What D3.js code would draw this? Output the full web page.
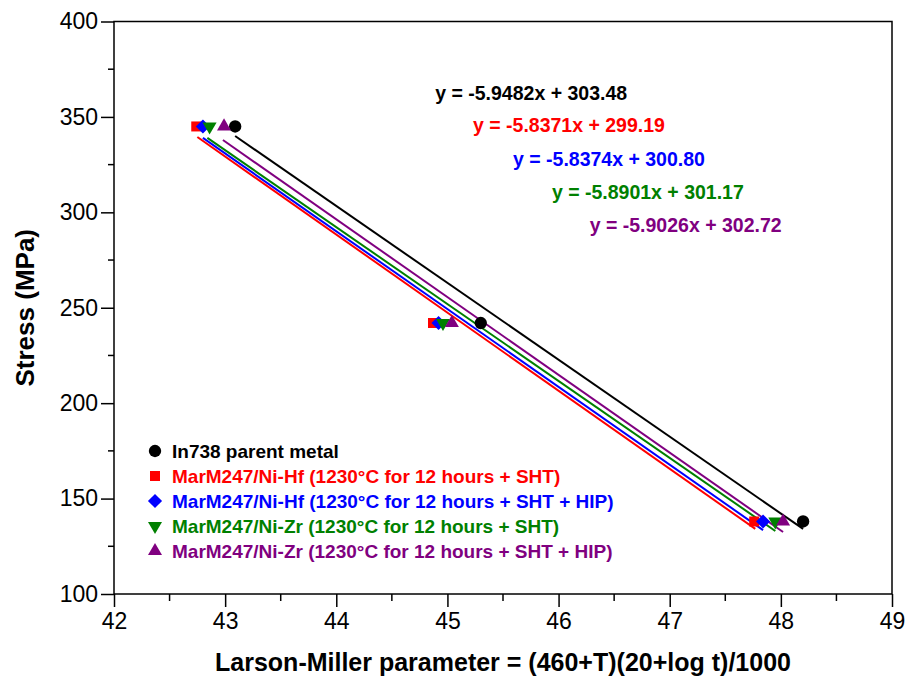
<!DOCTYPE html>
<html lang="en">
<head>
    <meta charset="UTF-8">
    <title>Larson-Miller plot</title>
    <script src="https://cdn.jsdelivr.net/npm/d3@7"></script>
    <style>
        body { margin: 0; background: #fff; }
        svg { display: block; font-family: "Liberation Sans", Arial, sans-serif; }
    </style>
</head>
<body>
<div id="chart"></div>
<script>
    // series names and colours
    const seriesNames = [
        "In738 parent metal",
        "MarM247/Ni-Hf (1230°C for 12 hours + SHT)",
        "MarM247/Ni-Hf (1230°C for 12 hours + SHT + HIP)",
        "MarM247/Ni-Zr (1230°C for 12 hours + SHT)",
        "MarM247/Ni-Zr (1230°C for 12 hours + SHT + HIP)"
    ];
    const seriesColors = ["#000000", "#ff0000", "#0000ff", "#008000", "#800080"];
    const seriesSymbols = ["circle", "square", "diamond", "triDown", "triUp"];

    // measured points: stress levels and LMP per series
    const stressLevels = [345, 242, 138];
    const lmpIn738 = [43.09, 45.30, 48.20];
    const lmpHfSht = [42.74, 44.87, 47.76];
    const lmpHfHip = [42.80, 44.92, 47.84];
    const lmpZrSht = [42.86, 44.96, 47.95];
    const lmpZrHip = [42.99, 45.04, 48.02];
    const lmpSeries = [lmpIn738, lmpHfSht, lmpHfHip, lmpZrSht, lmpZrHip];

    // trend lines: [x0, y0, x1, y1] in data units
    const trendIn738 = [43.09, 340.0, 48.20, 134.1];
    const trendHfSht = [42.75, 339.5, 47.77, 134.1];
    const trendHfHip = [42.80, 339.0, 47.84, 133.5];
    const trendZrSht = [42.84, 339.0, 47.95, 133.0];
    const trendZrHip = [42.98, 337.9, 48.02, 132.5];
    const trends = [trendIn738, trendHfSht, trendHfHip, trendZrSht, trendZrHip];

    const equations = [
        "y = -5.9482x + 303.48",
        "y = -5.8371x + 299.19",
        "y = -5.8374x + 300.80",
        "y = -5.8901x + 301.17",
        "y = -5.9026x + 302.72"
    ];
    // anchor of each equation label (LMP, MPa)
    const eqPos = [[44.89, 358.9], [45.23, 342.1], [45.59, 324.3], [45.94, 307.0], [46.28, 289.7]];

    const xTicks = [42, 43, 44, 45, 46, 47, 48, 49];
    const yTicks = [100, 150, 200, 250, 300, 350, 400];

    const W = 908, H = 679;
    const margin = {left: 114, top: 21.5, right: 16, bottom: 85};

    const x = d3.scaleLinear().domain([42, 49]).range([margin.left, W - margin.right]);
    const y = d3.scaleLinear().domain([100, 400]).range([H - margin.bottom, margin.top]);

    const svg = d3.select("#chart").append("svg")
        .attr("width", W)
        .attr("height", H);

    // frame
    svg.append("rect")
        .attr("x", x(42)).attr("y", y(400))
        .attr("width", x(49) - x(42)).attr("height", y(100) - y(400))
        .attr("fill", "none").attr("stroke", "#000").attr("stroke-width", 1.5);

    // axes
    const xAxis = svg.append("g")
        .attr("transform", `translate(0,${y(100)})`)
        .call(d3.axisBottom(x).tickValues(xTicks).tickFormat(d3.format("d")).tickSize(13).tickPadding(6));
    xAxis.append("g").selectAll("line")
        .data(d3.range(42.5, 49, 1))
        .join("line")
        .attr("x1", d => x(d)).attr("x2", d => x(d))
        .attr("y1", 0).attr("y2", 7)
        .attr("stroke", "#000").attr("stroke-width", 1.5);

    const yAxis = svg.append("g")
        .attr("transform", `translate(${x(42)},0)`)
        .call(d3.axisLeft(y).tickValues(yTicks).tickSize(13).tickPadding(3));
    yAxis.append("g").selectAll("line")
        .data(d3.range(125, 400, 50))
        .join("line")
        .attr("y1", d => y(d)).attr("y2", d => y(d))
        .attr("x1", 0).attr("x2", -6)
        .attr("stroke", "#000").attr("stroke-width", 1.5);

    svg.selectAll(".domain").remove();
    svg.selectAll(".tick line").attr("stroke-width", 1.5);
    svg.selectAll(".tick text")
        .attr("font-family", "'Liberation Sans', Arial, sans-serif")
        .attr("font-size", 23)
        .attr("fill", "#000");

    // axis titles
    svg.append("text")
        .attr("x", (x(42) + x(49)) / 2)
        .attr("y", 671)
        .attr("text-anchor", "middle")
        .attr("font-size", 25)
        .attr("font-weight", "bold")
        .text("Larson-Miller parameter = (460+T)(20+log t)/1000");

    svg.append("text")
        .attr("transform", `translate(34,${(y(100) + y(400)) / 2}) rotate(-90)`)
        .attr("text-anchor", "middle")
        .attr("font-size", 26)
        .attr("font-weight", "bold")
        .text("Stress (MPa)");

    // symbols
    const symbolOf = {
        circle: d3.symbolCircle,
        square: d3.symbolSquare,
        diamond: d3.symbolSquare,
        triDown: d3.symbolTriangle,
        triUp: d3.symbolTriangle
    };
    const sizeOf = {circle: 120, square: 100, diamond: 100, triDown: 85, triUp: 85};
    const rotOf = {triDown: " rotate(180)", diamond: " rotate(45)"};
    function marker(sel, s) {
        sel.attr("d", d3.symbol().type(symbolOf[s]).size(sizeOf[s])())
            .attr("transform", function () {
                return (this.getAttribute("transform") || "") + (rotOf[s] || "");
            });
    }

    // trend lines
    svg.append("g").selectAll("line")
        .data(trends)
        .join("line")
        .attr("x1", d => x(d[0])).attr("y1", d => y(d[1]))
        .attr("x2", d => x(d[2])).attr("y2", d => y(d[3]))
        .attr("stroke", (d, i) => seriesColors[i])
        .attr("stroke-width", 2);

    // points
    lmpSeries.forEach((vals, i) => {
        svg.append("g").selectAll("path")
            .data(vals)
            .join("path")
            .attr("transform", (d, j) => `translate(${x(d)},${y(stressLevels[j])})`)
            .attr("fill", seriesColors[i])
            .each(function () { marker(d3.select(this), seriesSymbols[i]); });
    });

    // equations
    svg.append("g").selectAll("text")
        .data(equations)
        .join("text")
        .attr("x", (d, i) => x(eqPos[i][0]))
        .attr("y", (d, i) => y(eqPos[i][1]))
        .attr("font-size", 19.5)
        .attr("font-weight", "bold")
        .attr("fill", (d, i) => seriesColors[i])
        .text(d => d);

    // legend
    const legend = svg.append("g").attr("transform", "translate(155,451)");
    const row = legend.selectAll("g")
        .data(seriesNames)
        .join("g")
        .attr("transform", (d, i) => `translate(0,${i * 25})`);
    row.append("path")
        .attr("fill", (d, i) => seriesColors[i])
        .each(function (d, i) { marker(d3.select(this), seriesSymbols[i]); });
    row.append("text")
        .attr("x", 17)
        .attr("dy", "0.35em")
        .attr("font-size", 19)
        .attr("font-weight", "bold")
        .attr("fill", (d, i) => seriesColors[i])
        .text(d => d);
</script>
</body>
</html>
